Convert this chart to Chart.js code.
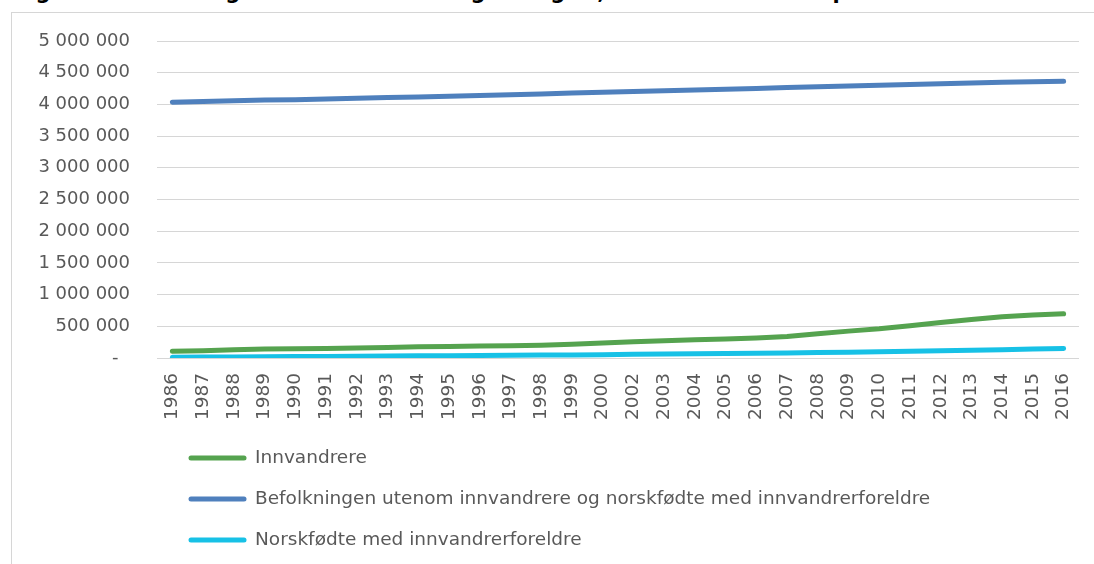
<!DOCTYPE html>
<html lang="no">
  <head>
    <meta charset="UTF-8" />
    <title>Befolkningen etter innvandringskategori</title>
    <style>
      body {
        margin: 0;
        background: #fff;
        font-family: "DejaVu Sans", Verdana, sans-serif;
      }
      .title {
        position: absolute;
        left: 14px;
        top: -20px;
        font-size: 21px;
        font-weight: bold;
        color: #000;
        white-space: nowrap;
      }
      .frame {
        position: absolute;
        left: 11px;
        top: 12px;
        width: 1200px;
        height: 700px;
        border-left: 1px solid #d6d6d6;
        border-top: 1px solid #d6d6d6;
        background: #fff;
      }
      .chart-box {
        position: absolute;
        left: 0;
        top: 0;
        width: 1094px;
        height: 564px;
      }
    </style>
  </head>
  <body>
    <div class="title">Figur 1. Befolkningen etter innvandringskategori, 1986–2016. Antall personer</div>
    <div class="frame"></div>
    <div class="chart-box">
      <canvas id="myChart" width="1094" height="564"></canvas>
    </div>

    <script src="https://cdn.jsdelivr.net/npm/chart.js"></script>

    <script>
      const years = [
        "1986", "1987", "1988", "1989", "1990", "1991", "1992", "1993",
        "1994", "1995", "1996", "1997", "1998", "1999", "2000", "2002",
        "2003", "2004", "2005", "2006", "2007", "2008", "2009", "2010",
        "2011", "2012", "2013", "2014", "2015", "2016",
      ];

      // innvandrere
      const innvandrere = [
        105000, 115000, 130000, 140000, 146000, 151000, 158000, 167000,
        177000, 183000, 188000, 195000, 203000, 217000, 235000, 256000,
        274000, 288000, 301000, 317000, 340000, 381000, 424000, 460000,
        508000, 560000, 607000, 652000, 679000, 698000,
      ];

      // befolkningen utenom innvandrere og norskfødte med innvandrerforeldre
      const ovrigBefolkning = [
        4035000, 4045000, 4058000, 4068000, 4075000, 4085000, 4097000, 4108000,
        4118000, 4128000, 4140000, 4152000, 4165000, 4178000, 4190000, 4205000,
        4215000, 4228000, 4240000, 4252000, 4265000, 4278000, 4290000, 4303000,
        4315000, 4327000, 4338000, 4348000, 4358000, 4366000,
      ];

      // norskfødte med innvandrerforeldre
      const norskfodte = [
        12000, 14000, 16000, 19000, 22000, 25000, 28000, 31000,
        34000, 37000, 40000, 43000, 46000, 49000, 52000, 58000,
        62000, 66000, 70000, 75000, 79000, 85000, 91000, 98000,
        106000, 114000, 122000, 130000, 140000, 149000,
      ];

      const yTicks = [0, 500000, 1000000, 1500000, 2000000, 2500000, 3000000, 3500000, 4000000, 4500000, 5000000];

      const textColor = "#595959";
      const font = { family: "'DejaVu Sans', Verdana, sans-serif", size: 18 };

      function formatNumber(v) {
        if (v === 0) return "-  ";
        return String(v).replace(/\B(?=(\d{3})+(?!\d))/g, " ");
      }

      // legend as a vertical list under the axis, like the original
      const listLegend = {
        id: "listLegend",
        afterDraw(chart) {
          const c = chart.ctx;
          const rows = [458, 499, 540];
          c.save();
          c.font = "18.5px " + font.family;
          c.textBaseline = "middle";
          c.textAlign = "left";
          chart.data.datasets.forEach((ds, i) => {
            const y = rows[i];
            c.strokeStyle = ds.borderColor;
            c.lineWidth = 5;
            c.lineCap = "round";
            c.beginPath();
            c.moveTo(191, y);
            c.lineTo(244, y);
            c.stroke();
            c.fillStyle = textColor;
            c.fillText(ds.label, 255, y);
          });
          c.restore();
        },
      };

      const lineStyle = {
        borderWidth: 5,
        pointRadius: 0,
        tension: 0,
        borderCapStyle: "round",
        borderJoinStyle: "round",
        fill: false,
      };

      new Chart(document.getElementById("myChart"), {
        type: "line",
        data: {
          labels: years,
          datasets: [
            { label: "Innvandrere", data: innvandrere, borderColor: "#55a34f", ...lineStyle },
            { label: "Befolkningen utenom innvandrere og norskfødte med innvandrerforeldre", data: ovrigBefolkning, borderColor: "#4f80bd", ...lineStyle },
            { label: "Norskfødte med innvandrerforeldre", data: norskfodte, borderColor: "#17c1e6", ...lineStyle },
          ],
        },
        options: {
          responsive: false,
          animation: false,
          layout: { padding: { top: 41, right: 15, bottom: 0, left: 0 } },
          plugins: {
            legend: { display: false },
            tooltip: { enabled: false },
          },
          scales: {
            x: {
              offset: true,
              grid: { display: false, drawTicks: false },
              border: { display: false },
              ticks: {
                color: textColor,
                font: { family: font.family, size: 18.5 },
                autoSkip: false,
                minRotation: 90,
                maxRotation: 90,
                padding: 15,
              },
              afterFit(scale) {
                scale.height = 206;
                scale.paddingLeft = 0;
                scale.paddingRight = 0;
              },
            },
            y: {
              min: 0,
              max: 5000000,
              afterBuildTicks(scale) {
                scale.ticks = yTicks.map((v) => ({ value: v }));
              },
              grid: { color: "#d6d6d6", lineWidth: 1, drawTicks: false },
              border: { display: false },
              ticks: {
                color: textColor,
                font: font,
                padding: 27,
                callback: (v) => formatNumber(v),
              },
              afterFit(scale) {
                scale.width = 157;
              },
            },
          },
        },
        plugins: [listLegend],
      });
    </script>
  </body>
</html>
